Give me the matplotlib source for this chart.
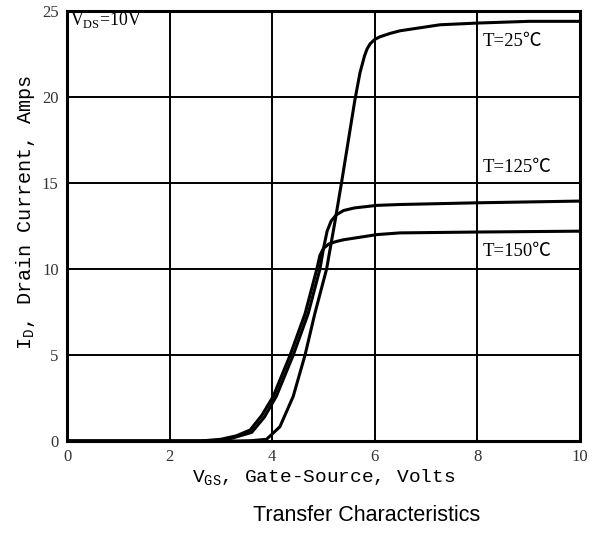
import matplotlib
matplotlib.use("Agg")
import matplotlib.pyplot as plt

# datos (V_GS en volts, I_D en amps)
vgs_25 = [0, 3.3, 3.6, 3.89, 4.15, 4.41, 4.64, 4.83, 5.06, 5.22, 5.35, 5.61, 5.71, 5.8,
          5.85, 5.91, 6.0, 6.1, 6.3, 6.49, 7.27, 8.0, 9.0, 10]
id_25 = [0, 0, 0.02, 0.1, 0.83, 2.6, 5.0, 7.4, 10.0, 12.7, 15.0, 19.8, 21.4, 22.4,
         22.8, 23.1, 23.35, 23.5, 23.7, 23.85, 24.2, 24.3, 24.4, 24.4]

vgs_125 = [0, 2.8, 3.2, 3.6, 3.85, 4.08, 4.41, 4.70, 4.93, 5.0, 5.07, 5.15, 5.25, 5.39,
           5.6, 6.04, 6.49, 8, 10]
id_125 = [0, 0, 0.15, 0.5, 1.4, 2.6, 5.0, 7.4, 10.0, 11.2, 12.2, 12.8, 13.15, 13.4,
          13.55, 13.7, 13.75, 13.85, 13.95]

vgs_150 = [0, 2.6, 3.0, 3.3, 3.57, 3.8, 4.02, 4.35, 4.64, 4.87, 4.93, 5.0, 5.1, 5.25,
           5.39, 6.04, 6.49, 8, 10]
id_150 = [0, 0, 0.1, 0.3, 0.64, 1.5, 2.6, 5.0, 7.4, 10.0, 10.8, 11.2, 11.45, 11.6,
          11.7, 12.0, 12.1, 12.15, 12.2]

curvas = [(vgs_25, id_25), (vgs_125, id_125), (vgs_150, id_150)]
etiquetas = ["T=25℃", "T=125℃", "T=150℃"]
pos_etiquetas = [23.2, 15.9, 11.0]

x_ticks = [0, 2, 4, 6, 8, 10]
y_ticks = [0, 5, 10, 15, 20, 25]

plt.rcParams['mathtext.fontset'] = 'custom'
plt.rcParams['mathtext.rm'] = 'Liberation Serif'
plt.rcParams['mathtext.tt'] = 'Liberation Mono'

serif = ['Liberation Serif', 'Noto Sans CJK SC', 'DejaVu Serif']

fig = plt.figure(figsize=(6.02, 5.35), dpi=100)
ax = fig.add_axes([0.1113, 0.1757, 0.8522, 0.8037])

for vx, iy in curvas:
    ax.plot(vx, iy, color='black', lw=2.2, solid_capstyle='round',
            solid_joinstyle='round')

ax.set_xlim(0, 10)
ax.set_ylim(0, 25)
ax.set_xticks(x_ticks)
ax.set_yticks(y_ticks)
ax.grid(True, color='black', lw=1.4)
ax.tick_params(length=0, labelsize=12, labelcolor='#333333', pad=6)
for lab in ax.get_xticklabels() + ax.get_yticklabels():
    lab.set_family(serif)
for s in ax.spines.values():
    s.set_linewidth(2.2)

ax.text(0.06, 24.5, r'$\mathrm{V}_{\mathrm{DS}}$=10V', fontsize=12.8,
        family=serif, va='center', ha='left')
for t, y in zip(etiquetas, pos_etiquetas):
    ax.text(8.11, y, t, fontsize=13.5, family=serif, va='center', ha='left')

fig.text(0.537, 0.107, r'$\mathtt{V}_{\mathtt{GS}}$, Gate-Source, Volts',
         fontsize=14, family='Liberation Mono', ha='center', va='center')
fig.text(0.042, 0.604, r'$\mathtt{I}_{\mathtt{D}}$, Drain Current, Amps',
         fontsize=14.5, family='Liberation Mono', ha='center', va='center',
         rotation=90)
fig.text(0.609, 0.037, 'Transfer Characteristics', fontsize=15.5,
         family='Liberation Sans', ha='center', va='center')

fig.savefig('out.png', dpi=100)
